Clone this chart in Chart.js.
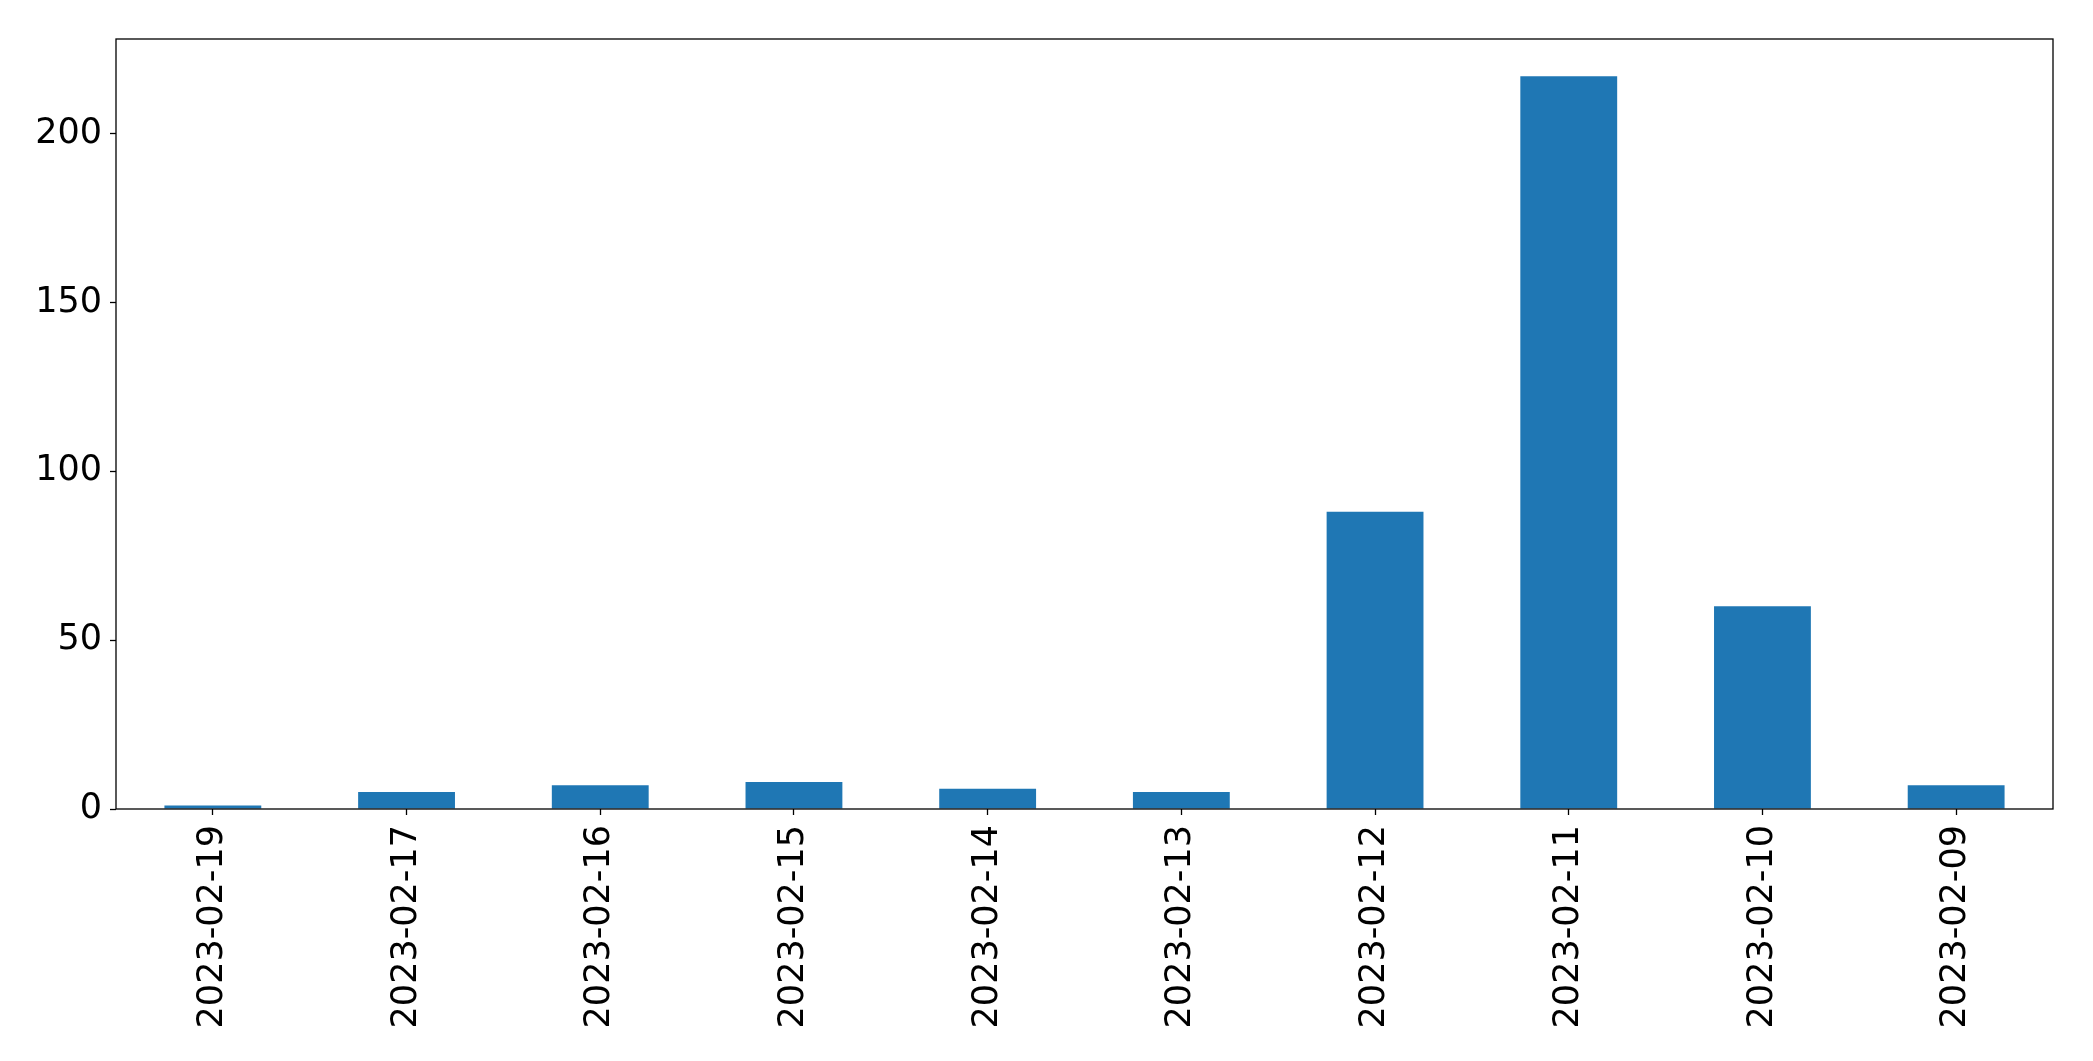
<!DOCTYPE html>
<html>
<head>
<meta charset="utf-8">
<title>Counts by date</title>
<script src="https://cdn.jsdelivr.net/npm/chart.js@4/dist/chart.umd.min.js"></script>
<style>
  html, body { margin: 0; padding: 0; background: #fff; }
  #wrap { width: 2093px; height: 1061px; }
</style>
</head>
<body>
<div id="wrap"><canvas id="chart" width="2093" height="1061"></canvas></div>
<script>
// values
const dates = ['2023-02-19', '2023-02-17', '2023-02-16', '2023-02-15', '2023-02-14',
  '2023-02-13', '2023-02-12', '2023-02-11', '2023-02-10', '2023-02-09'];
const counts = [1, 5, 7, 8, 6, 5, 88, 217, 60, 7];
const yTicks = [0, 50, 100, 150, 200];
const yMax = 228;

const FONT = { family: 'DejaVu Sans', size: 35 };

// matplotlib-style box round the axes
const frame = {
  id: 'frame',
  afterDraw(chart) {
    const a = chart.chartArea;
    const c = chart.ctx;
    c.save();
    c.strokeStyle = '#000';
    c.lineWidth = 1.3;
    c.strokeRect(a.left, a.top, a.right - a.left, a.bottom - a.top);
    c.restore();
  }
};

new Chart(document.getElementById('chart'), {
  type: 'bar',
  data: {
    labels: dates,
    datasets: [{
      data: counts,
      backgroundColor: '#1f77b4',
      barPercentage: 0.5,
      categoryPercentage: 1.0
    }]
  },
  options: {
    responsive: false,
    animation: false,
    layout: { padding: { top: 39, right: 40, left: 0, bottom: 0 } },
    plugins: { legend: { display: false }, tooltip: { enabled: false } },
    scales: {
      x: {
        offset: true,
        grid: { display: true, offset: false, drawOnChartArea: false, tickLength: 6, color: '#000', tickWidth: 1.3 },
        border: { display: false },
        ticks: { color: '#000', font: FONT, minRotation: 90, maxRotation: 90, autoSkip: false, padding: 10 },
        afterFit(s) { s.height = 252; }
      },
      y: {
        min: 0,
        max: yMax,
        grid: { display: true, drawOnChartArea: false, tickLength: 6, color: '#000', tickWidth: 1.3 },
        border: { display: false },
        ticks: { color: '#000', font: FONT, padding: 8 },
        afterBuildTicks(s) { s.ticks = yTicks.map((v) => ({ value: v })); },
        afterFit(s) { s.width = 116; }
      }
    }
  },
  plugins: [frame]
});
</script>
</body>
</html>
